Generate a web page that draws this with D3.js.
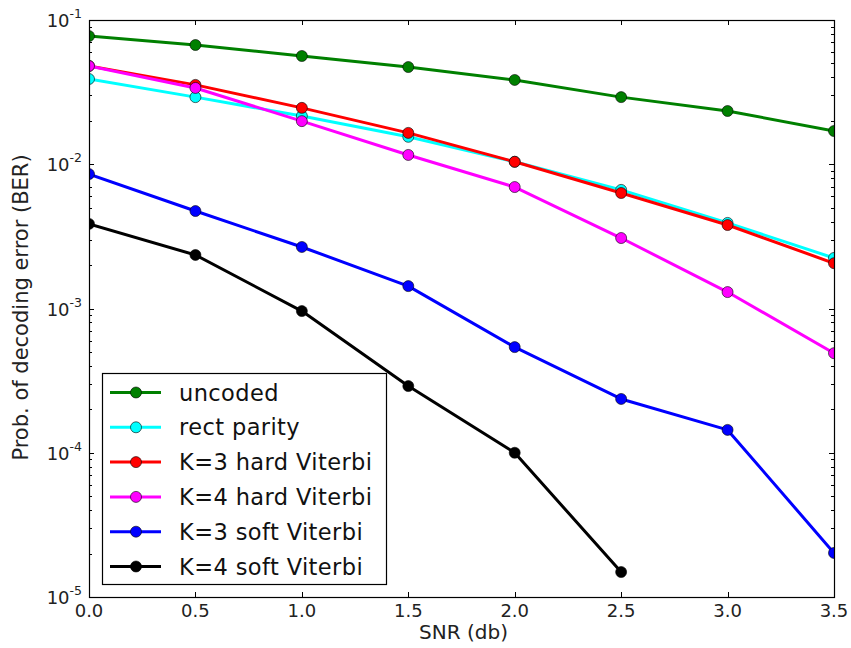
<!DOCTYPE html>
<html>
<head>
<meta charset="utf-8">
<script src="https://cdn.jsdelivr.net/npm/d3@7"></script>
<style>
body { margin: 0; background: #fff; }
svg { font-family: "DejaVu Sans", sans-serif; }
</style>
</head>
<body>
<svg id="chart" width="851" height="648"></svg>
<script>
// SNR values (db)
var snr = [0.0, 0.5, 1.0, 1.5, 2.0, 2.5, 3.0, 3.5];

var uncoded = [0.0774, 0.0671, 0.0563, 0.0472, 0.0384, 0.0292, 0.0234, 0.0170];
var rectParity = [0.0390, 0.0292, 0.0216, 0.0155, 0.0104, 0.00664, 0.00392, 0.00224];
var k3Hard = [0.0480, 0.0355, 0.0246, 0.0165, 0.0104, 0.00632, 0.00379, 0.00206];
var k4Hard = [0.0480, 0.0338, 0.0199, 0.0116, 0.00695, 0.00308, 0.00130, 0.00049];
var k3Soft = [0.00855, 0.00474, 0.00267, 0.00143, 0.00054, 0.000236, 0.000144, 0.0000202];
var k4Soft = [0.00386, 0.00235, 0.00096, 0.00029, 0.000100, 0.0000149];

var seriesNames = ["uncoded", "rect parity", "K=3 hard Viterbi", "K=4 hard Viterbi", "K=3 soft Viterbi", "K=4 soft Viterbi"];
var seriesColors = ["#008000", "#00ffff", "#ff0000", "#ff00ff", "#0000ff", "#000000"];
var seriesValues = [uncoded, rectParity, k3Hard, k4Hard, k3Soft, k4Soft];

var xTicks = [0.0, 0.5, 1.0, 1.5, 2.0, 2.5, 3.0, 3.5];
var yDecades = [-1, -2, -3, -4, -5];

var svg = d3.select("#chart"),
    margin = {top: 20, right: 17, bottom: 51, left: 89},
    width = +svg.attr("width") - margin.left - margin.right,
    height = +svg.attr("height") - margin.top - margin.bottom;

var x = d3.scaleLinear().domain([0, 3.5]).range([0, width]);
var y = d3.scaleLog().domain([1e-5, 1e-1]).range([height, 0]);

var g = svg.append("g").attr("transform", "translate(" + margin.left + "," + margin.top + ")");

svg.append("defs").append("clipPath").attr("id", "clip")
    .append("rect").attr("width", width).attr("height", height);

// ticks (inward, all four sides)
var minorVals = [];
yDecades.slice(1).forEach(function(e) {
    for (var m = 2; m <= 9; m++) minorVals.push(m * Math.pow(10, e));
});

var ticks = g.append("g").attr("stroke", "#000").attr("stroke-width", 1);
xTicks.forEach(function(t) {
    var px = Math.round(x(t)) + 0.5;
    ticks.append("line").attr("x1", px).attr("x2", px).attr("y1", height).attr("y2", height - 5);
    ticks.append("line").attr("x1", px).attr("x2", px).attr("y1", 0).attr("y2", 5);
});
yDecades.forEach(function(e) {
    var py = Math.round(y(Math.pow(10, e))) + 0.5;
    ticks.append("line").attr("x1", 0).attr("x2", 5).attr("y1", py).attr("y2", py);
    ticks.append("line").attr("x1", width).attr("x2", width - 5).attr("y1", py).attr("y2", py);
});
minorVals.forEach(function(v) {
    var py = Math.round(y(v)) + 0.5;
    ticks.append("line").attr("x1", 0).attr("x2", 3).attr("y1", py).attr("y2", py);
    ticks.append("line").attr("x1", width).attr("x2", width - 3).attr("y1", py).attr("y2", py);
});

// series
var line = d3.line()
    .x(function(d) { return x(d[0]); })
    .y(function(d) { return y(d[1]); });

var plot = g.append("g").attr("clip-path", "url(#clip)");
seriesValues.forEach(function(vals, i) {
    var pts = vals.map(function(v, j) { return [snr[j], v]; });
    plot.append("path")
        .datum(pts)
        .attr("fill", "none")
        .attr("stroke", seriesColors[i])
        .attr("stroke-width", 3)
        .attr("stroke-linejoin", "round")
        .attr("d", line);
    plot.selectAll(".m" + i)
        .data(pts)
        .enter().append("circle")
        .attr("cx", function(d) { return x(d[0]); })
        .attr("cy", function(d) { return y(d[1]); })
        .attr("r", 5.5)
        .attr("fill", seriesColors[i])
        .attr("stroke", "#000")
        .attr("stroke-width", 0.6);
});

// frame
g.append("rect")
    .attr("x", 0.5).attr("y", 0.5)
    .attr("width", width).attr("height", height)
    .attr("fill", "none").attr("stroke", "#000").attr("stroke-width", 1.2);

// x tick labels
g.selectAll(".xl")
    .data(xTicks)
    .enter().append("text")
    .attr("x", function(d) { return x(d); })
    .attr("y", height + 20)
    .attr("text-anchor", "middle")
    .style("font-size", "18px")
    .attr("fill", "#222")
    .text(function(d) { return d.toFixed(1); });

// y tick labels 10^e
yDecades.forEach(function(e) {
    var t = g.append("text")
        .attr("x", -7)
        .attr("y", y(Math.pow(10, e)) + 7)
        .attr("text-anchor", "end")
        .attr("fill", "#222")
        .style("font-size", "18px");
    t.append("tspan").text("10");
    t.append("tspan").attr("dy", -9).style("font-size", "12.5px").text(String(e));
});

// axis labels
g.append("text")
    .attr("x", width / 2 + 2)
    .attr("y", height + 42)
    .attr("text-anchor", "middle")
    .attr("fill", "#222")
    .style("font-size", "20px")
    .text("SNR (db)");

g.append("text")
    .attr("transform", "translate(" + (-61) + "," + (height / 2 - 1) + ") rotate(-90)")
    .attr("text-anchor", "middle")
    .attr("fill", "#222")
    .style("font-size", "21px")
    .text("Prob. of decoding error (BER)");

// legend
var lg = svg.append("g").attr("transform", "translate(102,373)");
lg.append("rect")
    .attr("x", 0.5).attr("y", 0.5)
    .attr("width", 284).attr("height", 211)
    .attr("fill", "#fff").attr("stroke", "#000").attr("stroke-width", 1.2);
seriesNames.forEach(function(name, i) {
    var ly = 19.5 + i * 34.8;
    lg.append("line")
        .attr("x1", 8).attr("x2", 59).attr("y1", ly).attr("y2", ly)
        .attr("stroke", seriesColors[i]).attr("stroke-width", 3);
    lg.append("circle")
        .attr("cx", 34).attr("cy", ly).attr("r", 5.5)
        .attr("fill", seriesColors[i]).attr("stroke", "#000").attr("stroke-width", 0.6);
    lg.append("text")
        .attr("x", 77).attr("y", ly + 8)
        .attr("fill", "#111")
        .style("font-size", "22.5px")
        .style("letter-spacing", "0.4px")
        .text(name);
});
</script>
</body>
</html>
